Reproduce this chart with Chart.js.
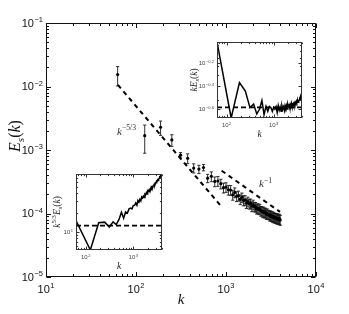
<!DOCTYPE html>
<html><head><meta charset="utf-8">
<script src="https://cdn.jsdelivr.net/npm/chart.js@4/dist/chart.umd.min.js"></script>
<style>
html,body{margin:0;padding:0;background:#fff;}
#wrap{position:relative;width:349px;height:314px;overflow:hidden;}
canvas{position:absolute;}
</style></head><body>
<div id="wrap">
<canvas id="main" width="349" height="314" style="left:0;top:0"></canvas>
<canvas id="in1" width="130" height="115" style="left:180px;top:30px"></canvas>
<canvas id="in2" width="125" height="110" style="left:45px;top:165px"></canvas>
</div>
<script>
// ---------- data ----------
const kVals = [62.5,125,187.5,250,312.5,375,437.5,500,562.5,625,687.5,750,812.5,875,937.5,1000,
1062.5,1125,1187.5,1250,1312.5,1375,1437.5,1500,1562.5,1625,1687.5,1750,1812.5,1875,1937.5,2000,
2062.5,2125,2187.5,2250,2312.5,2375,2437.5,2500,2562.5,2625,2687.5,2750,2812.5,2875,2937.5,3000,
3062.5,3125,3187.5,3250,3312.5,3375,3437.5,3500,3562.5,3625,3687.5,3750,3812.5,3875,3937.5,4000];
const spectrum = [1.54e-2,1.68e-3,2.28e-3,1.44e-3,8.3e-4,7.4e-4,5.2e-4,5.0e-4,5.3e-4,3.6e-4,3.85e-4,3.2e-4,3.25e-4,2.95e-4,2.55e-4,2.6e-4,
2.36e-4,2.34e-4,1.97e-4,2.15e-4,1.87e-4,1.91e-4,1.67e-4,1.79e-4,1.61e-4,1.62e-4,
1.45e-4,1.54e-4,1.42e-4,1.44e-4,1.30e-4,1.38e-4,1.28e-4,1.27e-4,1.18e-4,1.22e-4,
1.16e-4,1.19e-4,1.10e-4,1.10e-4,1.05e-4,1.07e-4,1.03e-4,1.03e-4,9.8e-5,1.00e-4,
9.6e-5,9.6e-5,9.2e-5,9.4e-5,9.05e-5,9.1e-5,8.7e-5,8.95e-5,8.6e-5,8.6e-5,
8.5e-5,8.5e-5,8.2e-5,8.4e-5,8.1e-5,8.2e-5,8.2e-5,7.9e-5];
const spectrumErr = [5.2e-3,7.9e-4,5.8e-4,3.0e-4,8e-5,1.3e-4,8.5e-5,7.5e-5,6e-5,5.4e-5,6.8e-5,5.6e-5,5.8e-5,5.1e-5,4.5e-5,4.5e-5,
4.1e-5,4.1e-5,3.5e-5,3.8e-5,3.3e-5,3.4e-5,2.9e-5,3.1e-5,2.9e-5,2.9e-5,
2.5e-5,2.7e-5,2.5e-5,2.5e-5,2.3e-5,2.4e-5,2.2e-5,2.2e-5,2.0e-5,2.1e-5,
2.0e-5,2.1e-5,1.9e-5,1.9e-5,1.9e-5,1.9e-5,1.8e-5,1.8e-5,1.7e-5,1.8e-5,
1.6e-5,1.6e-5,1.6e-5,1.6e-5,1.6e-5,1.6e-5,1.5e-5,1.5e-5,1.5e-5,1.5e-5,
1.5e-5,1.5e-5,1.4e-5,1.5e-5,1.4e-5,1.4e-5,1.5e-5,1.4e-5];
const fiveThirdsK = [63, 860];
const fiveThirdsE = [1.06e-2, 1.36e-4];
const minusOneK = [895, 3980];
const minusOneE = [4.72e-4, 1.06e-4];
const inset1Level = 0.26;
const inset2Level = 12.6;
const mainXTickExps = [1,2,3,4];
const mainYTickExps = [-5,-4,-3,-2,-1];
const insetXTickExps = [2,3];
const inset1YTickExps = [-0.6,-0.4,-0.2];
const inset2YTickExps = [1];
// label anchors (data space)
const labelFiveThirds = {k: 61.5, E: 2.0e-3};
const labelMinusOne = {k: 2330, E: 2.95e-4};

// ---------- helpers ----------
const SANS = '"Liberation Sans", Arial, sans-serif';
const SERIF = '"Liberation Serif", "Times New Roman", serif';
function pts(xs, ys){ return xs.map((x,i)=>({x:x, y:ys[i]})); }
function fmtExp(e){ return (e<0?'\u2212':'') + String(Math.abs(e)); }
function logTicks(min,max){
  const major=[],minor=[];
  for(let d=Math.floor(Math.log10(min)); d<=Math.ceil(Math.log10(max)); d++){
    for(let m=1;m<=9;m++){
      const v=m*Math.pow(10,d);
      if(v<min*0.9999||v>max*1.0001) continue;
      (m===1?major:minor).push(v);
    }
  }
  return {major, minor};
}
function drawPow(ctx, base, exp, x, y, size, align, color){
  ctx.save();
  ctx.fillStyle=color; ctx.textBaseline='alphabetic'; ctx.textAlign='left';
  const bf=size+'px '+SANS, es=size*0.68, ef=es+'px '+SANS;
  ctx.font=bf; const bw=ctx.measureText(base).width;
  ctx.font=ef; const ew=ctx.measureText(exp).width;
  const tw=bw+ew+0.5;
  const x0 = align==='right'? x-tw : (align==='center'? x-tw/2 : x);
  const bl = y + size*0.36;
  ctx.font=bf; ctx.fillText(base,x0,bl);
  ctx.font=ef; ctx.fillText(exp,x0+bw+0.5,bl-size*0.42);
  ctx.restore();
}
// parts: {t, it, sub, sup}
function drawMath(ctx, parts, cx, cy, size, rot, color, align){
  ctx.save();
  ctx.fillStyle=color; ctx.textBaseline='alphabetic'; ctx.textAlign='left';
  const fontOf=p=>{ const s=(p.sub||p.sup)?size*0.7:size; return (p.it?'italic ':'')+s+'px '+SERIF; };
  let tw=0; const ws=parts.map(p=>{ ctx.font=fontOf(p); const w=ctx.measureText(p.t).width; tw+=w; return w; });
  ctx.translate(cx,cy); ctx.rotate(rot||0);
  let x = align==='left'? 0 : -tw/2;
  const bl=size*0.33;
  parts.forEach((p,i)=>{
    ctx.font=fontOf(p);
    let y=bl; if(p.sub) y+=size*0.22; if(p.sup) y-=size*0.42;
    ctx.fillText(p.t,x,y); x+=ws[i];
  });
  ctx.restore();
}
function drawTicksFrame(chart, o){
  const ctx=chart.ctx, a=chart.chartArea, xs=chart.scales.x, ys=chart.scales.y;
  ctx.save();
  ctx.strokeStyle=o.color; ctx.lineWidth=1;
  const L=Math.round(a.left)+0.5, R=Math.round(a.right)-0.5, T=Math.round(a.top)+0.5, B=Math.round(a.bottom)-0.5;
  const X=v=>Math.round(xs.getPixelForValue(v))+0.5;
  const Y=v=>Math.round(ys.getPixelForValue(v))+0.5;
  ctx.beginPath();
  const seg=(x1,y1,x2,y2)=>{ctx.moveTo(x1,y1);ctx.lineTo(x2,y2);};
  o.xMajor.forEach(v=>{const p=X(v); seg(p,B,p,B-o.maj); seg(p,T,p,T+o.maj);});
  o.xMinor.forEach(v=>{const p=X(v); seg(p,B,p,B-o.min); seg(p,T,p,T+o.min);});
  o.yMajor.forEach(v=>{const p=Y(v); seg(L,p,L+o.maj,p); seg(R,p,R-o.maj,p);});
  o.yMinor.forEach(v=>{const p=Y(v); seg(L,p,L+o.min,p); seg(R,p,R-o.min,p);});
  ctx.stroke();
  ctx.lineWidth=o.frameWidth||1;
  ctx.strokeRect(L,T,R-L,B-T);
  ctx.restore();
}
const baseOpts = (pad, xmin, xmax, ymin, ymax)=>({
  responsive:false, animation:false, events:[],
  layout:{padding:pad},
  plugins:{legend:{display:false}, tooltip:{enabled:false}},
  scales:{
    x:{type:'logarithmic', min:xmin, max:xmax, display:false},
    y:{type:'logarithmic', min:ymin, max:ymax, display:false}
  }
});

// ---------- main chart ----------
const mainX = logTicks(10,10000), mainY = logTicks(1e-5,0.1);
new Chart(document.getElementById('main'), {
  type:'scatter',
  data:{datasets:[
    {data:pts(kVals,spectrum), pointRadius:1.6, pointBackgroundColor:'#000', pointBorderWidth:0, showLine:false},
    {data:pts(fiveThirdsK,fiveThirdsE), showLine:true, borderColor:'#000', borderWidth:2, borderDash:[4.5,4], pointRadius:0, fill:false},
    {data:pts(minusOneK,minusOneE), showLine:true, borderColor:'#000', borderWidth:2, borderDash:[4.5,4], pointRadius:0, fill:false}
  ]},
  options: baseOpts({left:46,right:33,top:23,bottom:37}, 10, 10000, 1e-5, 0.1),
  plugins:[{
    id:'mainDeco',
    beforeDraw(chart){ const c=chart.ctx; c.save(); c.fillStyle='#fff'; c.fillRect(0,0,chart.width,chart.height); c.restore(); },
    beforeDatasetsDraw(chart){
      const ctx=chart.ctx, xs=chart.scales.x, ys=chart.scales.y;
      ctx.save(); ctx.strokeStyle='#1a1a1a'; ctx.lineWidth=0.9; ctx.beginPath();
      kVals.forEach((k,i)=>{
        const px=xs.getPixelForValue(k);
        const t=ys.getPixelForValue(spectrum[i]+spectrumErr[i]);
        const b=ys.getPixelForValue(spectrum[i]-spectrumErr[i]);
        ctx.moveTo(px,t); ctx.lineTo(px,b);
        ctx.moveTo(px-1.6,t); ctx.lineTo(px+1.6,t);
        ctx.moveTo(px-1.6,b); ctx.lineTo(px+1.6,b);
      });
      ctx.stroke(); ctx.restore();
    },
    afterDraw(chart){
      const ctx=chart.ctx, a=chart.chartArea, xs=chart.scales.x, ys=chart.scales.y;
      drawTicksFrame(chart,{xMajor:mainX.major,xMinor:mainX.minor,yMajor:mainY.major,yMinor:mainY.minor,maj:4.5,min:2.5,color:'#111'});
      mainXTickExps.forEach(e=>drawPow(ctx,'10',fmtExp(e),xs.getPixelForValue(Math.pow(10,e)),a.bottom+12,11,'center','#111'));
      mainYTickExps.forEach(e=>drawPow(ctx,'10',fmtExp(e),a.left-3,ys.getPixelForValue(Math.pow(10,e)),11,'right','#111'));
      drawMath(ctx,[{t:'k',it:true}],(a.left+a.right)/2,a.bottom+22,15,0,'#111');
      drawMath(ctx,[{t:'E',it:true},{t:'s',it:true,sub:true},{t:'(',it:false},{t:'k',it:true},{t:')',it:false}],15,136,16,-Math.PI/2,'#111');
      drawMath(ctx,[{t:'k',it:true},{t:'\u22125/3',it:false,sup:true}],xs.getPixelForValue(labelFiveThirds.k),ys.getPixelForValue(labelFiveThirds.E),11,0,'#333','left');
      drawMath(ctx,[{t:'k',it:true},{t:'\u22121',it:false,sup:true}],xs.getPixelForValue(labelMinusOne.k),ys.getPixelForValue(labelMinusOne.E),11,0,'#333','left');
    }
  }]
});

// ---------- insets ----------
function makeInset(id, yVals, level, pad, yTickExps, ytitle, tpos){
  const kmin=Math.min(...kVals), kmax=Math.max(...kVals);
  const ymin=Math.min(...yVals), ymax=Math.max(...yVals);
  const tx=logTicks(kmin,kmax), ty=logTicks(ymin,ymax);
  new Chart(document.getElementById(id), {
    type:'scatter',
    data:{datasets:[
      {data:pts(kVals,yVals), showLine:true, borderColor:'#000', borderWidth:1.5, pointRadius:0, fill:false},
      {data:pts([kmin,kmax],[level,level]), showLine:true, borderColor:'#000', borderWidth:1.6, borderDash:[5,3], pointRadius:0, fill:false}
    ]},
    options: baseOpts(pad, kmin, kmax, ymin, ymax),
    plugins:[{
      id:'insetDeco',
      beforeDraw(chart){ const a=chart.chartArea, c=chart.ctx; c.save(); c.fillStyle='#fff'; c.fillRect(a.left,a.top,a.right-a.left,a.bottom-a.top); c.restore(); },
      afterDraw(chart){
        const ctx=chart.ctx, a=chart.chartArea, xs=chart.scales.x, ys=chart.scales.y;
        const yMaj=yTickExps.map(e=>Math.pow(10,e));
        drawTicksFrame(chart,{xMajor:tx.major,xMinor:tx.minor,yMajor:yMaj,yMinor:ty.minor,maj:3,min:1.6,color:'#333',frameWidth:1});
        insetXTickExps.forEach(e=>drawPow(ctx,'10',fmtExp(e),xs.getPixelForValue(Math.pow(10,e)),a.bottom+7,6,'center','#444'));
        yTickExps.forEach(e=>drawPow(ctx,'10',fmtExp(e),a.left-3,ys.getPixelForValue(Math.pow(10,e)),6,'right','#444'));
        drawMath(ctx,[{t:'k',it:true}],(a.left+a.right)/2,tpos.kx,9.5,0,'#222');
        drawMath(ctx,ytitle,tpos.yx,tpos.yy,9.5,-Math.PI/2,'#222');
      }
    }]
  });
}
const kTimesE = kVals.map((k,i)=>k*spectrum[i]);
const k53TimesE = kVals.map((k,i)=>Math.pow(k,5/3)*spectrum[i]);
makeInset('in1', kTimesE, inset1Level, {left:37,right:8,top:12,bottom:27}, inset1YTickExps,
  [{t:'k',it:true},{t:'E',it:true},{t:'s',it:true,sub:true},{t:'(',it:false},{t:'k',it:true},{t:')',it:false}],
  {kx:104, yx:14, yy:50});
makeInset('in2', k53TimesE, inset2Level, {left:31,right:8,top:9,bottom:25}, inset2YTickExps,
  [{t:'k',it:true},{t:'5/3',it:false,sup:true},{t:'E',it:true},{t:'s',it:true,sub:true},{t:'(',it:false},{t:'k',it:true},{t:')',it:false}],
  {kx:101, yx:12, yy:47});
</script>
</body></html>
